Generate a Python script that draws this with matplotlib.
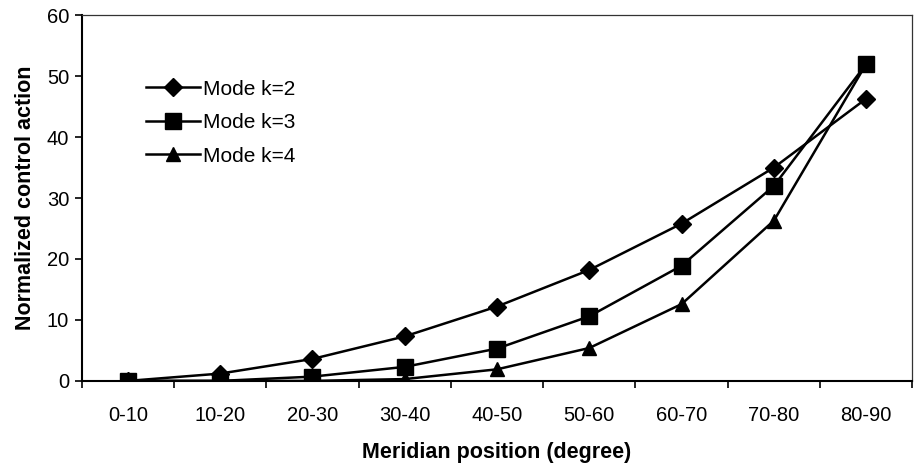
import numpy as np
import matplotlib.pyplot as plt

plt.rcParams['font.family'] = ['Liberation Sans', 'DejaVu Sans']

categories = ['0-10', '10-20', '20-30', '30-40', '40-50',
              '50-60', '60-70', '70-80', '80-90']
mode_k2 = [0.0, 1.2, 3.6, 7.3, 12.2, 18.2, 25.8, 35.0, 46.3]
mode_k3 = [0.0, 0.0, 0.7, 2.3, 5.3, 10.6, 18.9, 32.0, 52.0]
mode_k4 = [0.0, 0.0, 0.0, 0.3, 1.9, 5.4, 12.6, 26.3, 52.0]

x = np.arange(len(categories))

fig = plt.figure(figsize=(9.17, 4.72), dpi=100)
ax = fig.add_axes([0.089, 0.193, 0.906, 0.775])

ax.plot(x, mode_k2, c='black', lw=1.8, marker='D', ms=9, label='Mode k=2')
ax.plot(x, mode_k3, c='black', lw=1.8, marker='s', ms=11, label='Mode k=3')
ax.plot(x, mode_k4, c='black', lw=1.8, marker='^', ms=10, label='Mode k=4')

ax.set_xlim(-0.5, len(categories) - 0.5)
ax.set_ylim(0, 60)
ax.set_yticks(np.arange(0, 61, 10))
ax.set_xticks(x)
ax.set_xticklabels(categories)
ax.set_xticks(np.arange(-0.5, len(categories), 1.0), minor=True)
ax.tick_params(axis='x', which='major', length=0, pad=18, labelsize=14.5)
ax.tick_params(axis='x', which='minor', length=5, width=1.2, direction='out')
ax.tick_params(axis='y', length=5, width=1.2, labelsize=14.5, pad=4)

for side in ['left', 'bottom']:
    ax.spines[side].set_linewidth(1.5)
for side in ['top', 'right']:
    ax.spines[side].set_linewidth(0.9)
    ax.spines[side].set_color('#333333')

ax.set_xlabel('Meridian position (degree)', fontsize=15.5, fontweight='bold', labelpad=12)
ax.set_ylabel('Normalized control action', fontsize=15.5, fontweight='bold', labelpad=8)

ax.legend(loc='upper left', bbox_to_anchor=(0.055, 0.875), frameon=False,
          fontsize=15, handlelength=2.6, handletextpad=0.15, labelspacing=0.7)

fig.savefig('out.png', dpi=100)
